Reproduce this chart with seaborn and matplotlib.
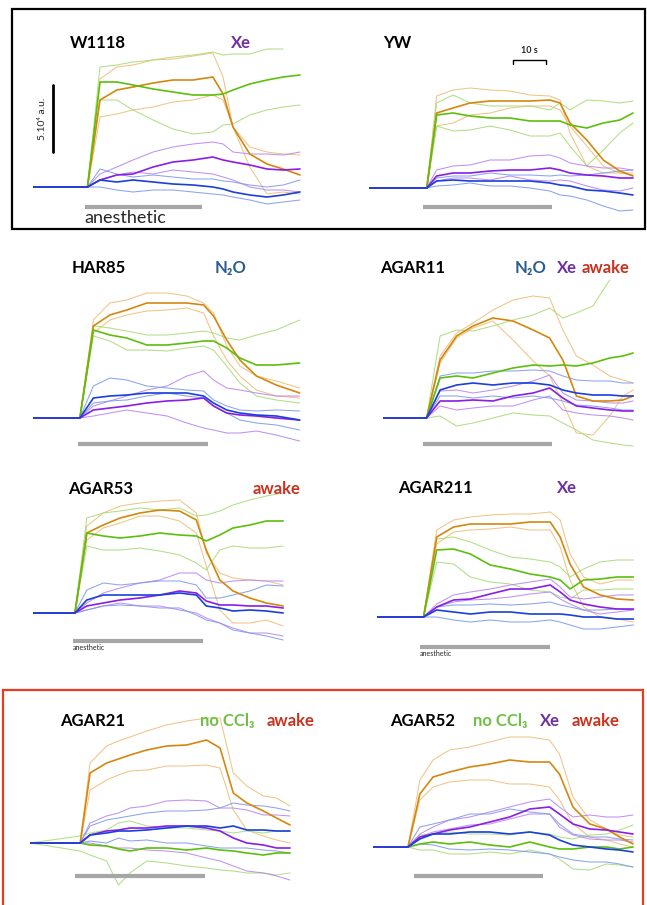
import numpy as np
import pandas as pd
import matplotlib
matplotlib.use("Agg")
import matplotlib.pyplot as plt
import seaborn as sns
from matplotlib.patches import Rectangle

nan = np.nan

# signal units: 67 units = 5.10^4 a.u. (scale bar), time in s
# each group = [mean, upper, lower]

# W1118
w1118_t = [0, 16.5, 20.3, 25.4, 30.3, 36.4, 42.4, 48.5, 54.5, 57.6, 60.6, 65.7, 70.9, 75.8, 80.9]
w1118_orange = [[0, 0, 87, 97, 100, 104, 107, 107, 110, 93, 60, 33, 23, 18, 12],
                [0, 0, 108, 120, 122, 127, 128, 131, 134, 110, 60, 40, 35, 33, 32],
                [0, 0, 70, 73, 77, 80, 85, 87, 92, 87, 60, 20, -7, -5, -7]]
w1118_green = [[0, 0, 105, 105, 102, 98, 95, 92, 92, 93, 97, 103, 107, 110, 112],
               [0, 0, 120, 122, 125, 127, 130, 132, 135, 132, 133, 133, 138, 138, nan],
               [0, 0, 87, 87, 77, 67, 58, 53, 55, 62, 63, 72, 77, 80, 82]]
w1118_purple = [[0, 0, 7, 12, 13, 20, 25, 27, 30, 27, 25, 22, 18, 17, 18],
                [0, 0, 13, 20, 27, 35, 40, 43, 45, 43, 35, 33, 33, 32, 35],
                [0, 0, 7, 12, 15, 13, 17, 15, 13, 10, 7, 0, -3, -3, -5]]
w1118_blue = [[0, 0, 7, 5, 7, 5, 3, 2, 0, -2, -5, -8, -10, -8, -5],
              [0, 0, 18, 13, 10, 12, 10, 8, 8, 6, 5, 2, 0, 2, 7],
              [0, 0, 0, -3, -5, -3, -3, -5, -7, -8, -10, -13, -17, -15, -13]]

# YW
yw_t = [0, 17.5, 20.5, 25.5, 30.6, 36.7, 42.7, 48.8, 54.8, 57.9, 60.9, 66, 71, 76, 80]
yw_orange = [[0, 0, 75, 80, 85, 87, 87, 87, 88, 85, 65, 48, 28, 17, 12],
             [0, 0, 92, 98, 100, 98, 97, 93, 92, 88, 55, 22, 15, 15, 13],
             [0, 0, 62, 65, 73, 75, 80, 82, 82, 78, 62, 42, 22, 15, 15]]
yw_green = [[0, 0, 73, 75, 72, 70, 70, 67, 67, 67, 63, 60, 65, 68, 75],
            [0, 0, 85, 93, 85, 82, 82, 82, 78, 85, 78, 88, 87, 85, 87],
            [0, 0, 62, 57, 58, 62, 58, 52, 52, 55, 42, 22, 38, 55, 65]]
yw_purple = [[0, 0, 12, 15, 15, 17, 18, 18, 20, 18, 15, 13, 12, 10, 10],
             [0, 0, 18, 22, 23, 28, 28, 32, 33, 30, 25, 22, 20, 20, 18],
             [0, 0, 7, 10, 10, 8, 12, 8, 7, 8, 7, 2, -2, -3, 0]]
yw_blue = [[0, 0, 7, 8, 7, 7, 7, 7, 5, 3, 2, -2, -3, -5, -7],
           [0, 0, 10, 12, 12, 15, 13, 13, 12, 13, 12, 13, 15, 17, 18],
           [0, 0, 2, 3, 5, 2, 2, 0, -3, -7, -8, -12, -18, -23, -22]]

# HAR85
har85_t = [0, 14.2, 18.3, 23.3, 28.4, 34.5, 40.6, 46.6, 51.7, 54.7, 58.7, 62.7, 67.7, 73.7, 80.8]
har85_orange = [[0, 0, 92, 103, 108, 115, 115, 115, 113, 102, 78, 58, 42, 33, 25],
                [0, 0, 98, 115, 118, 125, 125, 122, 115, 105, 72, 52, 42, 37, 30],
                [0, 0, 85, 98, 103, 107, 108, 110, 105, 82, 58, 42, 28, 22, 20]]
har85_green = [[0, 0, 88, 83, 80, 73, 73, 75, 77, 77, 70, 60, 53, 53, 55],
               [0, 0, 92, 90, 87, 83, 83, 85, 87, 85, 80, 78, 83, 88, 98],
               [0, 0, 82, 77, 68, 68, 67, 70, 72, 68, 52, 35, 22, 18, 15]]
har85_purple = [[0, 0, 8, 10, 12, 15, 17, 18, 20, 12, 5, 3, 2, 0, -2],
                [0, 0, 12, 17, 22, 28, 32, 42, 47, 38, 30, 28, 25, 22, 22],
                [0, 0, 2, 5, 8, 5, 2, -5, -10, -12, -15, -15, -13, -17, -23]]
har85_blue = [[0, 0, 20, 22, 23, 25, 25, 25, 22, 15, 8, 5, 3, 2, -2],
              [0, 0, 32, 40, 38, 32, 30, 28, 27, 18, 12, 8, 7, 8, 7],
              [0, 0, 15, 17, 18, 22, 25, 22, 20, 12, 5, -2, -5, -7, -12]]

# AGAR11
agar11_t = [0, 13.2, 17.3, 22.3, 27.3, 33.3, 39.4, 45.5, 50.5, 54.5, 58.6, 63.6, 68.7, 72.7, 75.8]
agar11_orange = [[0, 0, 58, 82, 92, 100, 97, 88, 80, 58, 22, 17, 17, 18, 22],
                 [0, 0, 62, 85, 95, 108, 118, 122, 120, 88, 62, 53, 42, 38, 35],
                 [0, 0, 55, 80, 90, 97, 78, 57, 42, 15, -15, -17, 2, 22, 28]]
agar11_green = [[0, 0, 40, 42, 40, 45, 50, 53, 52, 53, 52, 55, 60, 62, 65],
                [0, 0, 82, 88, 87, 92, 98, 103, 110, 100, 105, 112, 138, nan, nan],
                [0, 0, 2, -8, -5, 0, 5, 3, 2, -5, -12, -22, -25, -27, -28]]
agar11_purple = [[0, 0, 17, 17, 18, 17, 22, 25, 30, 20, 12, 10, 8, 7, 7],
                 [0, 0, 27, 28, 25, 28, 32, 37, 43, 25, 18, 17, 15, 15, 17],
                 [0, 0, 12, 8, 10, 12, 12, 18, 22, 8, 5, 3, 2, 0, -2]]
agar11_blue = [[0, 0, 28, 33, 35, 33, 35, 35, 33, 28, 25, 23, 23, 22, 22],
               [0, 0, 42, 45, 45, 47, 47, 48, 47, 42, 38, 37, 37, 35, 35],
               [0, 0, 22, 22, 20, 22, 20, 22, 20, 17, 13, 12, 10, 8, 8]]

# AGAR53
agar53_t = [0, 12.7, 16.3, 21.3, 26.4, 32.4, 38.4, 44.4, 49.5, 52.5, 56.6, 60.6, 65.7, 70.7, 75.8]
agar53_orange = [[0, 0, 80, 88, 95, 100, 103, 102, 93, 63, 33, 22, 15, 10, 7],
                 [0, 0, 87, 100, 107, 110, 112, 113, 100, 60, 40, 35, 33, 32, 28],
                 [0, 0, 73, 85, 90, 97, 97, 92, 80, 47, 3, -10, -10, -7, -13]]
agar53_green = [[0, 0, 80, 77, 75, 77, 80, 78, 77, 72, 78, 85, 88, 92, 92],
                [0, 0, 95, 100, 102, 105, 103, 105, 97, 98, 102, 108, 113, 117, 120],
                [0, 0, 67, 63, 63, 65, 62, 58, 50, 43, 63, 67, 65, 65, 67]]
agar53_purple = [[0, 0, 7, 10, 13, 15, 18, 22, 20, 12, 8, 8, 7, 7, 5],
                 [0, 0, 10, 20, 25, 30, 33, 40, 40, 33, 30, 32, 33, 32, 32],
                 [0, 0, 3, 7, 10, 7, 7, 3, 0, -5, -10, -15, -20, -20, -23]]
agar53_blue = [[0, 0, 13, 18, 18, 18, 18, 20, 18, 7, 5, 2, 3, 2, 0],
               [0, 0, 23, 30, 28, 30, 32, 32, 28, 15, 15, 18, 22, 28, 27],
               [0, 0, 3, 7, 8, 7, 5, 5, -2, -7, -10, -17, -20, -23, -27]]

# AGAR211
agar211_t = [0, 14.1, 18.1, 23.2, 28.3, 34.3, 40.4, 46.4, 52.5, 55.5, 58.5, 62.6, 67.6, 72.7, 77.7]
agar211_orange = [[0, 0, 80, 90, 93, 93, 93, 95, 95, 80, 53, 30, 22, 18, 17],
                  [0, 0, 87, 97, 100, 102, 103, 103, 105, 97, 63, 40, 33, 37, 37],
                  [0, 0, 73, 85, 87, 88, 90, 87, 87, 70, 37, 10, 0, -2, -5]]
agar211_green = [[0, 0, 67, 68, 63, 52, 48, 43, 40, 37, 28, 37, 38, 40, 40],
                 [0, 0, 78, 80, 75, 67, 60, 58, 55, 50, 40, 48, 55, 57, 57],
                 [0, 0, 55, 53, 40, 35, 33, 27, 25, 20, 18, 27, 27, 28, 28]]
agar211_purple = [[0, 0, 10, 17, 18, 23, 28, 28, 32, 25, 17, 13, 10, 8, 8],
                  [0, 0, 13, 22, 25, 28, 32, 35, 38, 30, 20, 18, 20, 22, 22],
                  [0, 0, 10, 15, 17, 18, 20, 23, 25, 18, 13, 7, 3, 5, 7]]
agar211_blue = [[0, 0, 7, 5, 3, 5, 5, 3, 3, 3, 2, 0, 0, -2, -2],
                [0, 0, 10, 12, 12, 13, 12, 13, 15, 12, 10, 7, 7, 8, 7],
                [0, 0, 0, -3, -5, -3, -5, -5, -3, -5, -8, -12, -12, -10, -8]]

# AGAR21
agar21_t = [0, 15.2, 18.2, 23.2, 26.8, 30.3, 35.4, 41.4, 47.5, 53.5, 57.6, 61.6, 65.7, 70.7, 74.7, 78.8]
agar21_orange = [[0, 0, 70, 80, 84, 88, 93, 97, 98, 103, 95, 50, 40, 32, 25, 18],
                 [0, 0, 80, 97, 102, 106, 112, 118, 122, 125, 125, 70, 57, 47, 45, 37],
                 [0, 0, 53, 63, 68, 72, 73, 77, 77, 78, 75, 33, 13, 7, 3, 0]]
agar21_green = [[0, 0, -2, -3, -6, -8, -5, -5, -7, -5, -7, -8, -10, -12, -10, -10],
                [0, 7, 10, 13, 20, 22, 17, 15, 15, 13, 12, 10, 12, 10, 12, 12],
                [0, -8, -12, -18, -42, -30, -18, -20, -23, -25, -27, -28, -30, -30, -32, -30]]
agar21_purple = [[0, 0, 8, 12, 13, 15, 15, 17, 17, 15, 12, 5, 0, -2, -5, -5],
                 [0, 0, 20, 27, 30, 35, 37, 42, 43, 42, 35, 35, 33, 28, 28, 27],
                 [0, 0, 0, -3, -5, -5, -7, -8, -10, -15, -18, -23, -28, -30, -33, -37]]
agar21_blue = [[0, 0, 8, 10, 12, 12, 13, 15, 17, 17, 15, 17, 13, 13, 12, 12],
               [0, 0, 17, 23, 25, 27, 30, 32, 32, 33, 35, 40, 38, 37, 35, 32],
               [0, 0, 2, 0, 5, 2, 3, 0, 0, -3, -5, -5, -5, -7, -8, -10]]

# AGAR52
agar52_t = [0, 10.6, 14.2, 18.2, 23.2, 29.3, 35.4, 41.4, 47.5, 53.5, 56.5, 60.6, 65.7, 70.7, 74.7, 78.8]
agar52_orange = [[0, 0, 53, 70, 75, 80, 83, 87, 85, 85, 73, 40, 23, 18, 10, 3],
                 [0, 0, 67, 87, 97, 100, 105, 110, 110, 107, 93, 50, 27, 18, 12, 10],
                 [0, 0, 47, 60, 65, 67, 67, 63, 63, 60, 47, 23, 10, 7, 3, 0]]
agar52_green = [[0, 0, 3, 5, 3, 5, 2, 0, 5, 0, -2, -2, 0, 0, -2, 0],
                [0, 0, 12, 13, 15, 13, 13, 12, 15, 13, 10, 8, 12, 13, 17, 22],
                [0, 0, -3, -3, -7, -7, -5, -7, -3, -7, -12, -22, -23, -17, -18, -20]]
agar52_purple = [[0, 0, 10, 13, 17, 20, 25, 30, 38, 40, 33, 23, 18, 17, 15, 13],
                 [0, 0, 13, 20, 27, 30, 35, 40, 45, 48, 40, 30, 32, 30, 30, 32],
                 [0, 0, 10, 15, 18, 22, 23, 28, 33, 33, 20, 12, 8, 7, 7, 5]]
agar52_blue = [[0, 0, 8, 13, 13, 15, 15, 13, 15, 12, 7, 2, 0, -2, -3, -5],
               [0, 0, 20, 23, 27, 33, 33, 38, 35, 33, 23, 13, 10, 10, 8, 7],
               [0, 0, 3, 2, -2, -3, -2, -3, -5, -7, -10, -13, -15, -15, -17, -20]]

# anesthetic on/off (s)
stim = {"W1118": (15.8, 51.2), "YW": (16.4, 55.5), "HAR85": (13.6, 53.0), "AGAR11": (12.1, 51.2),
        "AGAR53": (12.1, 51.5), "AGAR211": (13.0, 52.4), "AGAR21": (13.6, 53.0), "AGAR52": (12.4, 51.5)}

GROUPS = ["orange", "green", "purple", "blue"]
DARK = {"orange": "#D4870E", "green": "#5CBF0C", "purple": "#8A1DE6", "blue": "#1A3FDA"}
LIGHT = {"orange": "#EEBE78", "green": "#A9DB78", "purple": "#B886F0", "blue": "#7E9AEC"}

# layout: name, time, groups, left px, baseline px, bar offset
panels = [
    ("W1118", w1118_t, [w1118_orange, w1118_green, w1118_purple, w1118_blue], 33, 187, -20),
    ("YW", yw_t, [yw_orange, yw_green, yw_purple, yw_blue], 369, 188, -19),
    ("HAR85", har85_t, [har85_orange, har85_green, har85_purple, har85_blue], 33, 418, -26),
    ("AGAR11", agar11_t, [agar11_orange, agar11_green, agar11_purple, agar11_blue], 383, 418, -26),
    ("AGAR53", agar53_t, [agar53_orange, agar53_green, agar53_purple, agar53_blue], 33, 613, -28),
    ("AGAR211", agar211_t, [agar211_orange, agar211_green, agar211_purple, agar211_blue], 377, 617, -30),
    ("AGAR21", agar21_t, [agar21_orange, agar21_green, agar21_purple, agar21_blue], 30, 843, -33),
    ("AGAR52", agar52_t, [agar52_orange, agar52_green, agar52_purple, agar52_blue], 373, 847, -29),
]

W, H = 647, 905
PXS = 3.3  # px per second


def long_df(t, groups):
    rows = []
    for g, trio in zip(GROUPS, groups):
        for role, vals in zip(["mean", "hi", "lo"], trio):
            for ti, v in zip(t, vals):
                rows.append((g, role, ti, v))
    return pd.DataFrame(rows, columns=["group", "role", "time", "signal"]).dropna()


def fx(x):
    return x / W


def fy(y):
    return 1 - y / H


sns.set_theme(style="white")
plt.rcParams["font.family"] = ["Lato", "DejaVu Sans"]

fig = plt.figure(figsize=(W / 100, H / 100), dpi=100)
axes = {}
for name, t, groups, x0, yb, bar in panels:
    ax = fig.add_axes([fx(x0), fy(yb + 50), 82 * PXS / W, 200 / H])
    df = long_df(t, groups)
    thin = df[df["role"] != "mean"]
    thick = df[df["role"] == "mean"]
    sns.lineplot(data=thin, x="time", y="signal", hue="group", units="role", estimator=None,
                 palette=LIGHT, lw=0.75, alpha=0.9, legend=False, sort=False, ax=ax)
    sns.lineplot(data=thick, x="time", y="signal", hue="group", estimator=None,
                 palette=DARK, lw=1.2, legend=False, sort=False, ax=ax)
    on, off = stim[name]
    ax.plot([on, off], [bar, bar], color="#A6A6A6", lw=3, solid_capstyle="butt")
    ax.set_xlim(0, 82)
    ax.set_ylim(-50, 150)
    ax.axis("off")
    axes[name] = ax

# scale bars
ax = axes["W1118"]
ax.plot([6.1, 6.1], [35, 102], color="black", lw=2)
ax.text(2.9, 68.5, "5.10⁴ a.u.", rotation=90, ha="center", va="center", fontsize=7.5)
ax.text(27.9, -31, "anesthetic", ha="center", va="center", fontsize=13)
ax = axes["YW"]
ax.plot([43.6, 43.6, 53.6, 53.6], [124, 128, 128, 124], color="black", lw=1)
ax.text(48.6, 133, "10 s", ha="center", va="bottom", fontsize=6.5, fontweight="bold")
axes["AGAR53"].text(12.1, -35, "anesthetic", ha="left", va="center", fontsize=5)
axes["AGAR211"].text(13.0, -36, "anesthetic", ha="left", va="center", fontsize=5)

# titles and tags
XE, N2O, AWAKE, NOCCL = "#7030A0", "#2A5C8E", "#C8321E", "#6FBF45"
labels = [
    ("W1118", 70, 43, "black"), ("Xe", 231, 43, XE),
    ("YW", 383, 43, "black"),
    ("HAR85", 72, 268, "black"), ("N₂O", 215, 268, N2O),
    ("AGAR11", 380, 268, "black"), ("N₂O", 515, 268, N2O), ("Xe", 557, 268, XE), ("awake", 582, 268, AWAKE),
    ("AGAR53", 68, 489, "black"), ("awake", 253, 489, AWAKE),
    ("AGAR211", 398, 488, "black"), ("Xe", 557, 488, XE),
    ("AGAR21", 60, 721, "black"), ("no CCl₃", 200, 721, NOCCL), ("awake", 267, 721, AWAKE),
    ("AGAR52", 390, 721, "black"), ("no CCl₃", 473, 721, NOCCL), ("Xe", 540, 721, XE), ("awake", 572, 721, AWAKE),
]
for txt, x, y, c in labels:
    fig.text(fx(x), fy(y), txt, ha="left", va="center", fontsize=12, fontweight="bold", color=c)

# group boxes
fig.add_artist(Rectangle((fx(12), fy(229)), fx(645) - fx(12), fy(9) - fy(229),
                         transform=fig.transFigure, fill=False, ec="black", lw=1.6))
fig.add_artist(Rectangle((fx(3), fy(915)), fx(643) - fx(3), fy(690) - fy(915),
                         transform=fig.transFigure, fill=False, ec="#EA3A1F", lw=1.6))

fig.savefig("out.png", dpi=100)
